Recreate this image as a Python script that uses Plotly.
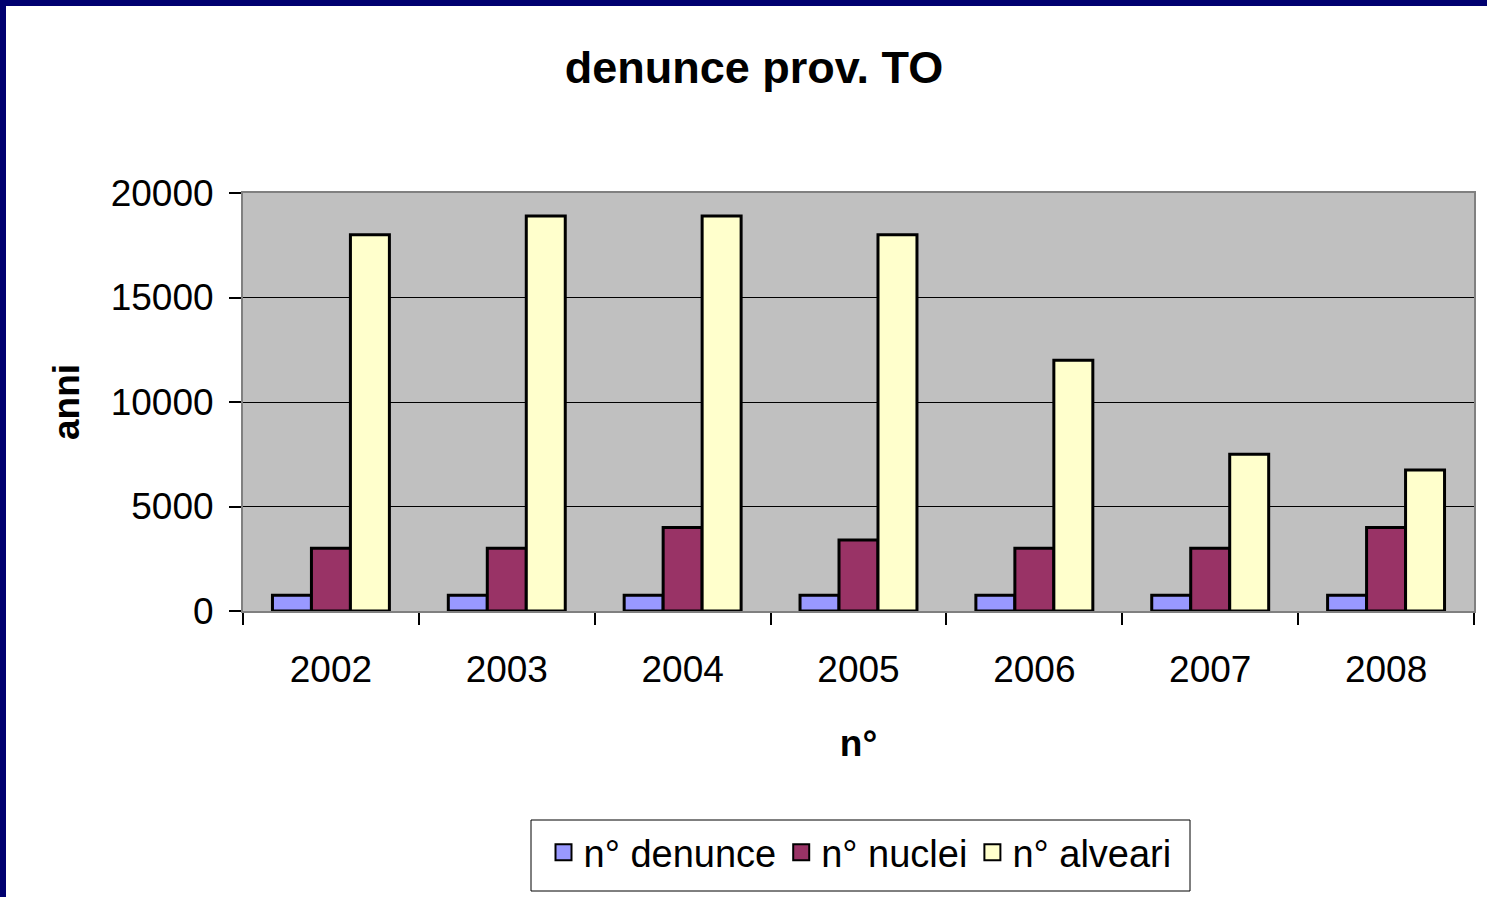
import plotly.graph_objects as go

years = ["2002", "2003", "2004", "2005", "2006", "2007", "2008"]
denunce = [750, 750, 750, 750, 750, 750, 750]
nuclei = [3000, 3000, 4000, 3400, 3000, 3000, 4000]
alveari = [18000, 18900, 18900, 18000, 12000, 7500, 6750]

W, H = 1487, 897
L, R, T, B = 243, 1474, 193, 611

def px(x):
    return (x - L) / (R - L)

def py(y):
    return (B - y) / (B - T)

fig = go.Figure()
series = [("n° denunce", denunce, "#9999FF"),
          ("n° nuclei", nuclei, "#993366"),
          ("n° alveari", alveari, "#FFFFCC")]
for name, vals, col in series:
    fig.add_trace(go.Bar(x=years, y=vals, name=name, showlegend=False,
                         marker=dict(color=col, line=dict(color="black", width=3))))
# legend proxies
for name, vals, col in series:
    fig.add_trace(go.Scatter(x=[years[0]], y=[None], name=name, mode="markers",
                             marker=dict(symbol="square", size=16, color=col,
                                         line=dict(color="black", width=2))))

navy = "#000070"
fig.update_layout(
    width=W, height=H,
    margin=dict(l=L, r=W - R, t=T, b=H - B),
    paper_bgcolor="white", plot_bgcolor="#C0C0C0",
    barmode="group", bargap=0.335, bargroupgap=0,
    font=dict(family="Liberation Sans, Arial, sans-serif", color="black", size=37),
    title=dict(text="<b>denunce prov. TO</b>", x=754 / W, xanchor="center", xref="container",
               y=1 - 67 / H, yanchor="middle", font=dict(size=45)),
    xaxis=dict(title=dict(text="<b>n°</b>", standoff=41, font=dict(size=37)),
               tickson="boundaries", ticks="outside", ticklen=12, tickcolor="black",
               tickwidth=1.5, showline=True, linecolor="#808080", linewidth=2,
               mirror=True, ticklabelstandoff=25, tickfont=dict(size=37)),
    yaxis=dict(title=dict(text="<b>anni</b>", standoff=20, font=dict(size=37)),
               range=[0, 20000], tickvals=[0, 5000, 10000, 15000, 20000],
               ticktext=["0", "5000", "10000", "15000", "20000"],
               ticks="outside", ticklen=12, tickcolor="black", tickwidth=1.5,
               showgrid=True, gridcolor="black", gridwidth=1,
               showline=True, linecolor="#808080", linewidth=2, mirror=True,
               ticklabelstandoff=8, tickfont=dict(size=37), zeroline=False),
    legend=dict(orientation="h", x=px(860), xanchor="center", y=py(821), yanchor="top",
                borderwidth=0, bgcolor="rgba(0,0,0,0)",
                font=dict(size=38), itemsizing="trace", traceorder="normal"),
    shapes=[
        dict(type="rect", xref="paper", yref="paper", x0=px(531), x1=px(1190),
             y0=py(891), y1=py(820), fillcolor="white", line=dict(color="black", width=1),
             layer="below"),
        dict(type="rect", xref="paper", yref="paper", x0=px(0), x1=px(W), y0=py(6), y1=py(0),
             fillcolor=navy, line=dict(width=0), layer="above"),
        dict(type="rect", xref="paper", yref="paper", x0=px(0), x1=px(6), y0=py(H), y1=py(0),
             fillcolor=navy, line=dict(width=0), layer="above"),
    ],
)

fig.write_html("out.html", post_script="document.body.style.margin='0px';",
               config={"displayModeBar": False})
